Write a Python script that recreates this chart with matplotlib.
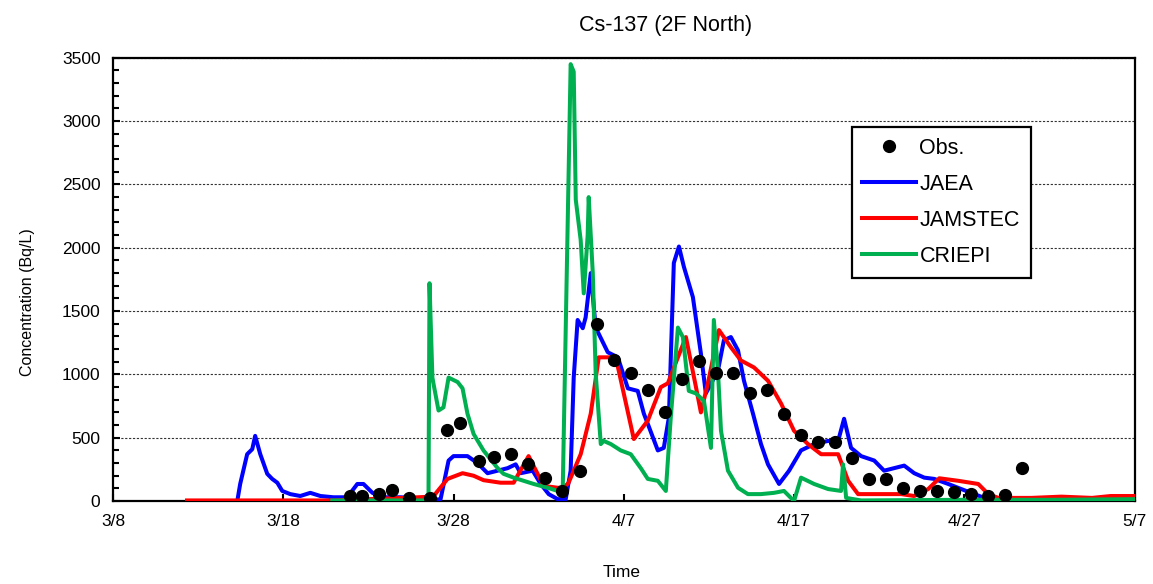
import matplotlib
matplotlib.use("Agg")
import matplotlib.pyplot as plt
from matplotlib.lines import Line2D
from matplotlib.ticker import MultipleLocator

plt.rcParams['font.family'] = ['Liberation Sans', 'DejaVu Sans']

# x values are days after 3/8
tick_days = [0, 10, 20, 30, 40, 50, 60]
tick_labels = ['3/8', '3/18', '3/28', '4/7', '4/17', '4/27', '5/7']

# observations
obs_day = [13.9, 14.6, 15.6, 16.4, 17.4, 18.6, 19.6, 20.4, 21.5, 22.4, 23.4, 24.4,
           25.4, 26.4, 27.4, 28.4, 29.4, 30.4, 31.4, 32.4, 33.4, 34.4, 35.4, 36.4,
           37.4, 38.4, 39.4, 40.4, 41.4, 42.4, 43.4, 44.4, 45.4, 46.4, 47.4, 48.4,
           49.4, 50.4, 51.4, 52.4, 53.4]
obs_val = [40, 40, 55, 90, 25, 25, 565, 620, 320, 350, 375, 295,
           180, 80, 240, 1400, 1110, 1010, 880, 705, 960, 1105, 1010, 1010,
           850, 875, 690, 525, 470, 470, 340, 175, 175, 105, 80, 80,
           70, 55, 40, 45, 265]

# JAEA model
jaea_day = [4.35, 7.3, 7.47, 7.88, 8.18, 8.35, 8.65, 9.06, 9.35, 9.65, 9.94, 10.41, 11.0,
            11.59, 12.18, 12.94, 13.76, 14.35, 14.71, 15.24, 15.88, 16.88, 18.06, 18.47,
            19.24, 19.71, 20.0, 20.82, 21.41, 22.0, 22.59, 23.18, 23.65, 23.94, 24.65,
            25.12, 25.59, 26.12, 26.59, 26.88, 27.06, 27.29, 27.59, 27.76, 28.06, 28.35,
            29.06, 29.65, 30.24, 30.82, 31.18, 31.41, 32.0, 32.35, 32.65, 32.94, 33.24,
            33.53, 34.06, 34.53, 34.82, 35.53, 35.88, 36.29, 36.71, 37.06, 37.59, 38.06,
            38.47, 39.12, 39.71, 40.41, 41.18, 42.0, 42.59, 42.94, 43.35, 43.94, 44.71,
            45.29, 45.88, 46.47, 47.06, 47.65, 48.24, 49.06, 49.82, 50.59, 51.18, 52.18,
            55.0, 60.0]
jaea_val = [0, 0, 135, 370, 410, 515, 370, 215, 175, 145, 80, 55, 40,
            65, 40, 30, 30, 135, 135, 65, 30, 30, 20, 5,
            15, 320, 355, 355, 300, 220, 240, 260, 290, 220, 240,
            135, 55, 15, 15, 240, 975, 1430, 1365, 1450, 1800, 1370,
            1175, 1135, 890, 870, 690, 610, 400, 420, 660, 1880, 2010,
            1850, 1610, 1165, 850, 1030, 1270, 1295, 1190, 950, 690, 450,
            290, 135, 240, 400, 450, 475, 475, 650, 420, 355, 320,
            240, 260, 280, 220, 185, 175, 135, 95, 55, 25, 15,
            15, 10]

# JAMSTEC model
jamstec_day = [4.35, 13.0, 17.0, 18.8, 19.65, 20.53, 21.18, 21.76, 22.76, 23.53, 23.82,
               24.41, 24.94, 25.29, 26.12, 26.47, 26.76, 27.47, 28.06, 28.53, 29.53,
               30.59, 31.41, 32.18, 32.59, 33.18, 33.65, 34.24, 34.53, 34.94, 35.59,
               36.29, 36.88, 37.65, 38.47, 39.24, 40.0, 40.82, 41.59, 42.59, 43.18,
               43.76, 44.94, 46.29, 47.06, 47.88, 48.53, 49.65, 50.82, 51.41, 52.0,
               53.94, 55.7, 57.5, 58.6, 60.0]
jamstec_val = [5, 5, 25, 35, 175, 220, 200, 165, 145, 145, 215,
               355, 215, 120, 105, 105, 145, 370, 690, 1135, 1135,
               490, 635, 900, 930, 1135, 1295, 900, 700, 930, 1350,
               1215, 1110, 1055, 950, 770, 555, 450, 370, 370, 160,
               55, 55, 55, 40, 95, 180, 160, 135, 55, 25,
               25, 35, 25, 40, 40]

# CRIEPI model
criepi_day = [12.88, 18.53, 18.59, 18.76, 18.82, 19.12, 19.41, 19.71, 20.24, 20.53, 20.82,
              21.18, 21.76, 22.59, 22.94, 23.53, 24.12, 24.71, 25.53, 26.12, 26.41,
              26.88, 27.06, 27.18, 27.47, 27.65, 27.88, 27.94, 28.18, 28.35, 28.65,
              28.82, 29.24, 29.82, 30.41, 31.0, 31.41, 32.0, 32.47, 32.76, 33.18,
              33.47, 33.82, 34.24, 34.71, 35.12, 35.29, 35.53, 35.71, 36.12, 36.71,
              37.29, 38.06, 38.82, 39.41, 40.0, 40.41, 41.18, 42.0, 42.76, 42.88,
              43.06, 43.94, 50.0, 55.0, 60.0]
criepi_val = [5, 5, 1720, 975, 930, 715, 740, 975, 940, 890, 690,
              530, 400, 260, 215, 185, 160, 135, 105, 80, 55,
              3450, 3390, 2380, 2060, 1640, 2100, 2400, 1800, 1010, 450,
              475, 450, 400, 370, 260, 175, 160, 80, 660, 1370,
              1295, 870, 850, 790, 420, 1430, 1030, 555, 240, 105,
              55, 55, 65, 80, 0, 185, 135, 95, 80, 290,
              25, 5, 10, 10, 15]

fig = plt.figure(figsize=(11.53, 5.84), dpi=100)
ax = fig.add_axes([0.098, 0.142, 0.886, 0.759])

lw = 2.9
ax.plot(jaea_day, jaea_val, color='#0000FF', lw=lw, zorder=3, solid_joinstyle='round')
ax.plot(jamstec_day, jamstec_val, color='#FF0000', lw=lw, zorder=3, solid_joinstyle='round')
ax.plot(criepi_day, criepi_val, color='#00B050', lw=lw, zorder=4, solid_joinstyle='round')
ax.plot(obs_day, obs_val, 'o', color='black', ms=8.5, zorder=5)

ax.set_xlim(0, 60)
ax.set_ylim(0, 3500)
ax.set_xticks(tick_days)
ax.set_xticklabels(tick_labels)
ax.yaxis.set_major_locator(MultipleLocator(500))
ax.yaxis.set_minor_locator(MultipleLocator(100))
ax.tick_params(axis='both', direction='in', labelsize=12.5, width=1.5, length=5, pad=9)
ax.tick_params(axis='y', which='minor', direction='in', width=1.5, length=4)
ax.tick_params(axis='x', which='minor', bottom=False)
ax.grid(axis='y', which='major', color='#333333', linestyle=(0, (2, 1.5)), lw=0.8)
for s in ax.spines.values():
    s.set_linewidth(1.6)

handles = [
    Line2D([], [], marker='o', color='black', ls='none', ms=8.5),
    Line2D([], [], color='#0000FF', lw=lw),
    Line2D([], [], color='#FF0000', lw=lw),
    Line2D([], [], color='#00B050', lw=lw),
]
leg = ax.legend(handles, ['Obs.', 'JAEA', 'JAMSTEC', 'CRIEPI'],
                loc='upper left', bbox_to_anchor=(0.723, 0.844), borderaxespad=0,
                fontsize=15.5, handlelength=2.5, handletextpad=0.15,
                labelspacing=0.7, borderpad=0.5, fancybox=False, framealpha=1)
leg.get_frame().set_edgecolor('black')
leg.get_frame().set_linewidth(1.6)

fig.text(0.577, 0.957, 'Cs-137 (2F North)', ha='center', va='center', fontsize=15.5)
fig.text(0.539, 0.019, 'Time', ha='center', va='center', fontsize=12.5)
fig.text(0.024, 0.483, 'Concentration (Bq/L)', ha='center', va='center',
         rotation=90, fontsize=11.5)

fig.savefig('out.png', dpi=100)
